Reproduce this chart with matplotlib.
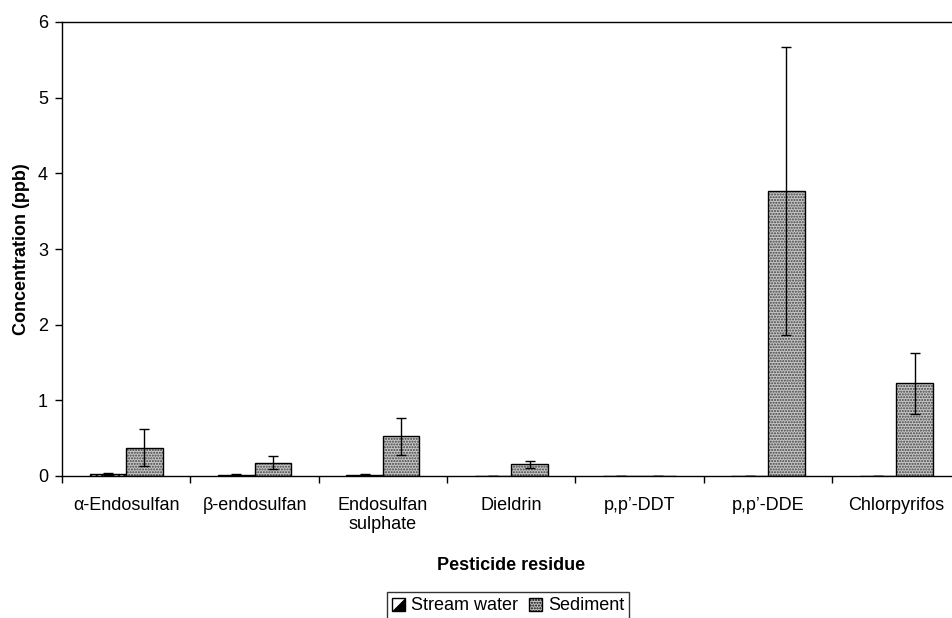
import matplotlib.pyplot as plt
import matplotlib.patches as mpatches
from matplotlib.legend_handler import HandlerBase
import numpy as np

plt.rcParams['font.family'] = ['Liberation Sans', 'DejaVu Sans']

categories = ["α-Endosulfan", "β-endosulfan", "Endosulfan\nsulphate", "Dieldrin",
              "p,p’-DDT", "p,p’-DDE", "Chlorpyrifos"]
stream_water = [0.025, 0.015, 0.015, 0.0, 0.0, 0.0, 0.0]
stream_err = [0.01, 0.005, 0.005, 0.0, 0.0, 0.0, 0.0]
sediment = [0.374, 0.176, 0.528, 0.154, 0.002, 3.77, 1.224]
sediment_err = [0.245, 0.09, 0.245, 0.042, 0.0, 1.9, 0.405]

x = np.arange(len(categories))
w = 0.285
FS = 13
SED_FACE = "#c6c6c6"
SED_DOTS = "#404040"


class HalfTriangle(HandlerBase):
    # white square with black lower-right triangle, like the Excel swatch
    def create_artists(self, legend, orig, xd, yd, width, height, fontsize, trans):
        s = min(width, height)
        x0, y0 = xd + (width - s) / 2 - xd * 2, -yd
        box = mpatches.Rectangle((x0, y0), s, s, facecolor="white", edgecolor="black",
                                 lw=1, transform=trans)
        tri = mpatches.Polygon([(x0, y0), (x0 + s, y0), (x0 + s, y0 + s)], closed=True,
                               facecolor="black", edgecolor="black", lw=0.5, transform=trans)
        return [box, tri]


fig = plt.figure(figsize=(9.52, 6.18), dpi=100)
ax = fig.add_axes([62 / 952, 142 / 618, 898.5 / 952, 454 / 618])

# stream water bars
ax.bar(x - w / 2, stream_water, w, facecolor="white", edgecolor="black",
       hatch="//////", linewidth=1, zorder=2)
# sediment bars: dotted grey fill, then outline
ax.bar(x + w / 2, sediment, w, facecolor=SED_FACE, edgecolor=SED_DOTS,
       hatch="......", linewidth=0, zorder=2)
ax.bar(x + w / 2, sediment, w, fill=False, edgecolor="black", linewidth=1, zorder=3)

ax.errorbar(x - w / 2, stream_water, yerr=stream_err, fmt="none", ecolor="black",
            elinewidth=1, capsize=3.5, capthick=1, zorder=4)
ax.errorbar(x + w / 2, sediment, yerr=sediment_err, fmt="none", ecolor="black",
            elinewidth=1, capsize=3.5, capthick=1, zorder=4)

ax.set_xlim(-0.5, len(categories) - 0.5)
ax.set_ylim(0, 6)
ax.set_yticks(range(7))
ax.set_xticks(x)
ax.set_xticklabels(categories, fontsize=FS)
ax.set_xticks(np.arange(len(categories) + 1) - 0.5, minor=True)
ax.tick_params(axis="x", which="major", length=0, pad=15)
ax.tick_params(axis="x", which="minor", length=5, direction="out", width=1)
ax.tick_params(axis="y", length=5, direction="out", width=1, labelsize=FS, pad=5)

for s in ["left", "bottom", "top"]:
    ax.spines[s].set_linewidth(1)
ax.spines["right"].set_visible(False)

ax.set_ylabel("Concentration (ppb)", fontsize=FS, fontweight="bold", labelpad=6)
ax.set_xlabel("Pesticide residue", fontsize=FS, fontweight="bold", labelpad=17)

h_water = mpatches.Patch(facecolor="white", edgecolor="black", label="Stream water")
h_sed = mpatches.Patch(facecolor=SED_FACE, edgecolor="black", hatch="......", label="Sediment")
leg = fig.legend(handles=[h_water, h_sed], loc="upper center",
                 bbox_to_anchor=(508 / 952, 26 / 618), ncol=2, fontsize=FS,
                 frameon=True, fancybox=False, edgecolor="black",
                 handlelength=0.75, handleheight=0.75, handletextpad=0.3,
                 columnspacing=0.6, borderpad=0.3, borderaxespad=0,
                 handler_map={h_water: HalfTriangle()})
leg.get_frame().set_linewidth(1)

fig.savefig("out.png", dpi=100)
